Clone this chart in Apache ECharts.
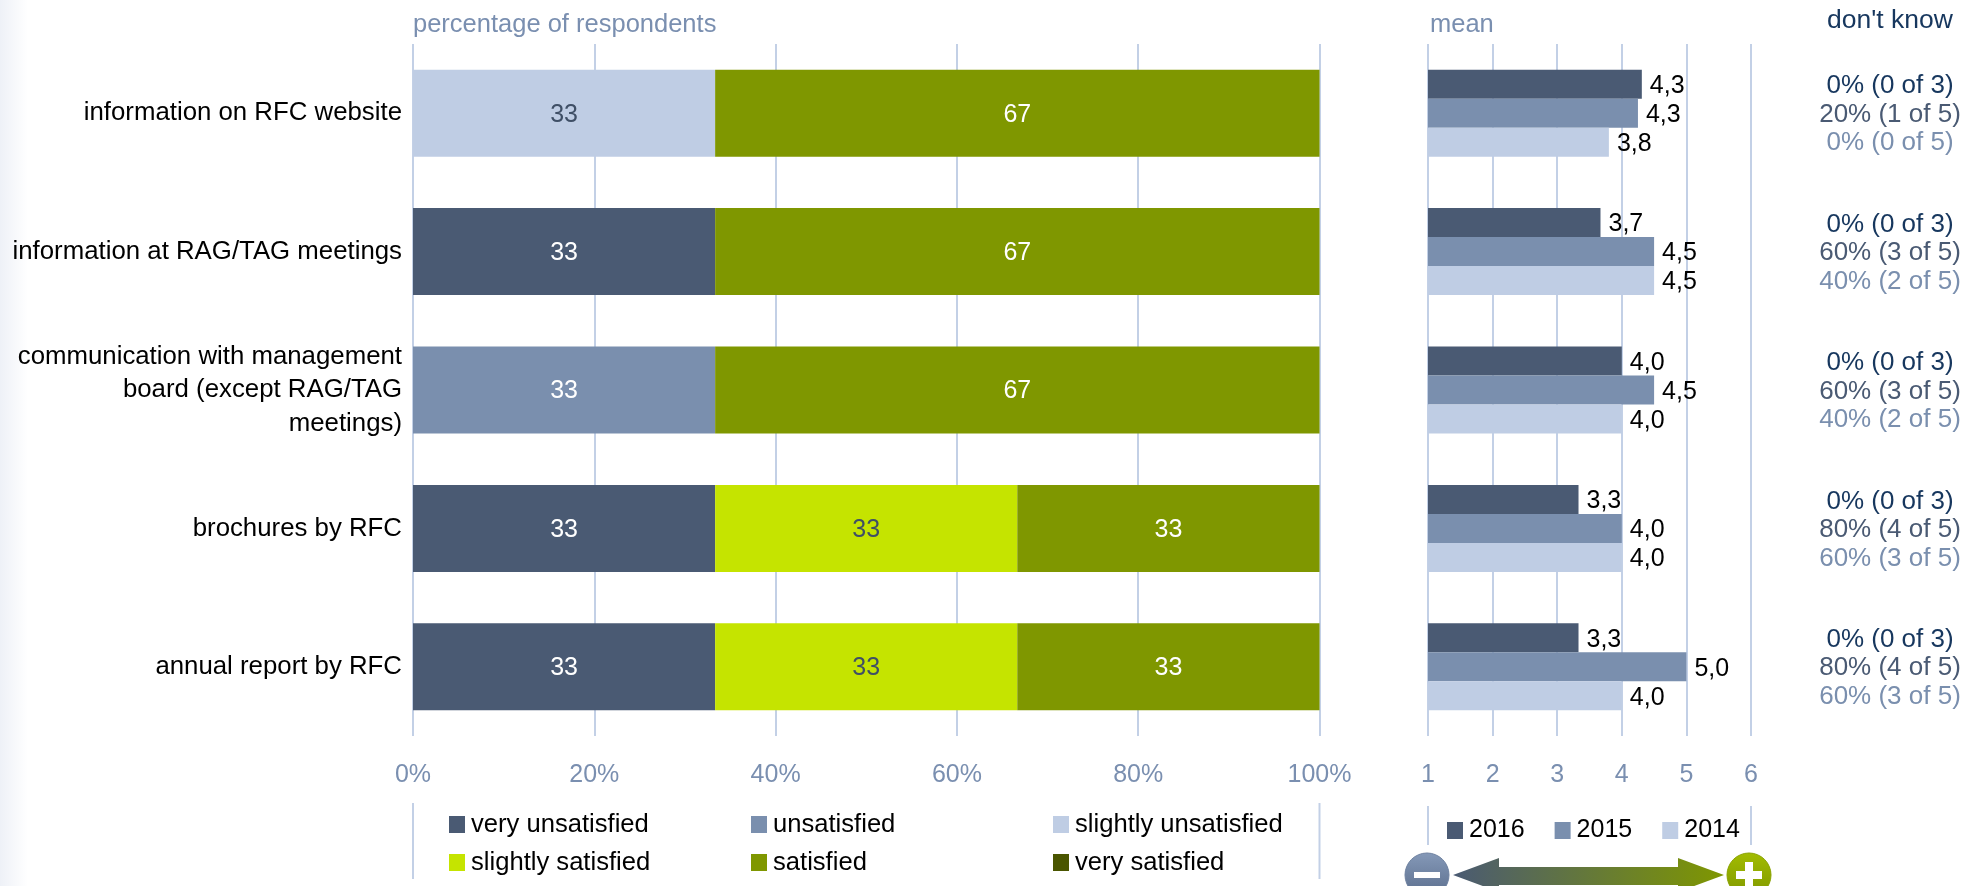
<!DOCTYPE html>
<html><head><meta charset="utf-8">
<style>html,body{margin:0;padding:0;background:#fff;overflow:hidden}#c{width:1964px;height:886px}</style>
<script src="https://cdn.jsdelivr.net/npm/echarts@6/dist/echarts.min.js"></script>
</head><body><div id="c"></div>
<script>
const categories = ['information on RFC website','information at RAG/TAG meetings','communication with management\nboard (except RAG/TAG\nmeetings)','brochures by RFC','annual report by RFC'];
const veryUnsatisfied = [null,33.33,null,33.33,33.33];
const unsatisfied = [null,null,33.33,null,null];
const slightlyUnsatisfied = [33.33,null,null,null,null];
const slightlySatisfied = [null,null,null,33.33,33.33];
const satisfied = [66.67,66.67,66.67,33.34,33.34];
const verySatisfied = [null,null,null,null,null];
const mean2016 = [4.31,3.67,4.0,3.33,3.33];
const mean2015 = [4.25,4.5,4.5,4.0,5.0];
const mean2014 = [3.8,4.5,4.0,4.0,4.0];
const dk2016 = ['0% (0 of 3)','0% (0 of 3)','0% (0 of 3)','0% (0 of 3)','0% (0 of 3)'];
const dk2015 = ['20% (1 of 5)','60% (3 of 5)','60% (3 of 5)','80% (4 of 5)','80% (4 of 5)'];
const dk2014 = ['0% (0 of 5)','40% (2 of 5)','40% (2 of 5)','60% (3 of 5)','60% (3 of 5)'];

const FONT='"Liberation Sans",Arial,sans-serif';
const C={vu:'#4A5A73',u:'#7A8FAE',su:'#BFCDE4',ss:'#C5E400',s:'#7F9700',vs:'#4A5500',axis:'#7A8FB0',navy:'#17375E',grid:'#C3D0E6'};
const L={l:413,r:1319.5,t:44,b:736}, M={l:1428,r:1751};

function pct(name,data,color,labelColor){
  return {name,type:'bar',stack:'pct',xAxisIndex:0,yAxisIndex:0,data,barWidth:87,itemStyle:{color},
    label:{show:true,position:'inside',offset:[0,1.5],color:labelColor,fontFamily:FONT,fontSize:25,
      formatter:p=>Math.round(p.value)}};
}
function mean(name,data,color){
  return {name,type:'bar',xAxisIndex:1,yAxisIndex:1,data,barWidth:29,barGap:0,itemStyle:{color},
    label:{show:true,position:'right',distance:8,offset:[0,2],color:'#000',fontFamily:FONT,fontSize:25,
      formatter:p=>p.value.toFixed(1).replace('.',',')}};
}
function lg(data,left){
  return {data,left,top:811.5,height:140,orient:'vertical',padding:0,itemWidth:16,itemHeight:17,itemGap:12,icon:'rect',
    selectedMode:false,textStyle:{fontFamily:FONT,fontSize:25.6,lineHeight:20,color:'#000',padding:[0,0,0,1]}};
}
const vline=(x,y1,y2)=>({type:'line',shape:{x1:x,y1,x2:x,y2},style:{stroke:C.grid,lineWidth:2},silent:true});
const txt=(text,x,y,fill,size,align)=>({type:'text',x,y,style:{text,fill,font:`${size}px ${FONT}`,align:align||'left',verticalAlign:'middle'},silent:true});

const chart=echarts.init(document.getElementById('c'),null,{renderer:'canvas'});
chart.setOption({
  animation:false,backgroundColor:'#fff',
  grid:[{left:L.l,width:L.r-L.l,top:L.t,height:L.b-L.t,outerBoundsMode:'none'},{left:M.l,width:M.r-M.l,top:L.t,height:L.b-L.t,outerBoundsMode:'none'}],
  xAxis:[0,1].map(i=>({gridIndex:i,type:'value',position:'bottom',min:i?1:0,max:i?6:100,interval:i?1:20,
    axisLine:{show:false},axisTick:{show:false},
    splitLine:{show:true,lineStyle:{color:C.grid,width:2}},
    axisLabel:{color:C.axis,fontFamily:FONT,fontSize:25,margin:27,formatter:i?'{value}':'{value}%',hideOverlap:false,showMinLabel:true,showMaxLabel:true}})),
  yAxis:[
    {gridIndex:0,type:'category',inverse:true,data:categories,axisLine:{show:false},axisTick:{show:false},
      axisLabel:{color:'#000',fontFamily:FONT,fontSize:25.8,lineHeight:33.5,margin:11,align:'right',interval:0,padding:[1,0,0,0]}},
    {gridIndex:1,type:'category',inverse:true,data:categories,axisLine:{show:false},axisTick:{show:false},axisLabel:{show:false}},
    {gridIndex:1,type:'category',inverse:true,position:'right',data:dk2016.map((_,i)=>i),axisLine:{show:false},axisTick:{show:false},
      axisLabel:{margin:139,align:'center',interval:0,fontFamily:FONT,fontSize:26,padding:[3,0,0,0],
        formatter:(v,i)=>`{a|${dk2016[i]}}\n{b|${dk2015[i]}}\n{c|${dk2014[i]}}`,
        rich:{a:{color:C.navy,fontFamily:FONT,fontSize:26,lineHeight:28.5},
              b:{color:'#4A5A73',fontFamily:FONT,fontSize:26,lineHeight:28.5},
              c:{color:C.u,fontFamily:FONT,fontSize:26,lineHeight:28.5}}}}
  ],
  legend:[
    lg(['very unsatisfied','slightly satisfied'],449),
    lg(['unsatisfied','satisfied'],751),
    lg(['slightly unsatisfied','very satisfied'],1053),
    {data:['2016','2015','2014'],left:1447,top:818,orient:'horizontal',padding:0,itemWidth:16,itemHeight:17,itemGap:30,icon:'rect',
      selectedMode:false,textStyle:{fontFamily:FONT,fontSize:25,lineHeight:20,color:'#000',padding:[0,0,0,1]}}
  ],
  series:[
    pct('very unsatisfied',veryUnsatisfied,C.vu,'#fff'),
    pct('unsatisfied',unsatisfied,C.u,'#fff'),
    pct('slightly unsatisfied',slightlyUnsatisfied,C.su,'#3F4F66'),
    pct('slightly satisfied',slightlySatisfied,C.ss,'#3F4F66'),
    pct('satisfied',satisfied,C.s,'#fff'),
    pct('very satisfied',verySatisfied,C.vs,'#fff'),
    mean('2016',mean2016,C.vu),
    mean('2015',mean2015,C.u),
    mean('2014',mean2014,C.su)
  ],
  graphic:[
    {type:'rect',z:-10,shape:{x:0,y:0,width:28,height:886},silent:true,
      style:{fill:new echarts.graphic.LinearGradient(0,0,1,0,[{offset:0,color:'#EEF1F7'},{offset:1,color:'#FFFFFF'}])}},
    txt('percentage of respondents',L.l,25,C.axis,25.5),
    txt('mean',1430,25,C.axis,25.5),
    txt("don't know",1890,21,C.navy,26.5,'center'),
    vline(L.l,803,879),vline(L.r,803,879),
    vline(M.l,806,845),vline(M.r,806,845),
    {type:'polygon',silent:true,shape:{points:[[1453,875],[1499,858],[1499,867],[1678,867],[1678,858],[1724,875],[1678,892],[1678,885],[1499,885],[1499,892]]},
      style:{fill:new echarts.graphic.LinearGradient(0,0,1,0,[{offset:0,color:C.vu},{offset:1,color:C.s}])}},
    {type:'circle',silent:true,shape:{cx:1427,cy:875,r:22},
      style:{fill:new echarts.graphic.LinearGradient(0,0,0,1,[{offset:0,color:'#8599B8'},{offset:1,color:'#5A6D8C'}]),stroke:'#6E81A0',lineWidth:1}},
    {type:'rect',silent:true,shape:{x:1414,y:872,width:26,height:6},style:{fill:'#fff'}},
    {type:'circle',silent:true,shape:{cx:1749,cy:875,r:22},
      style:{fill:new echarts.graphic.LinearGradient(0,0,0,1,[{offset:0,color:'#A2BC00'},{offset:1,color:'#7F9700'}]),stroke:'#8AA300',lineWidth:1}},
    {type:'rect',silent:true,shape:{x:1736,y:871,width:26,height:8},style:{fill:'#fff'}},
    {type:'rect',silent:true,shape:{x:1745,y:862,width:8,height:26},style:{fill:'#fff'}}
  ]
});
</script></body></html>
